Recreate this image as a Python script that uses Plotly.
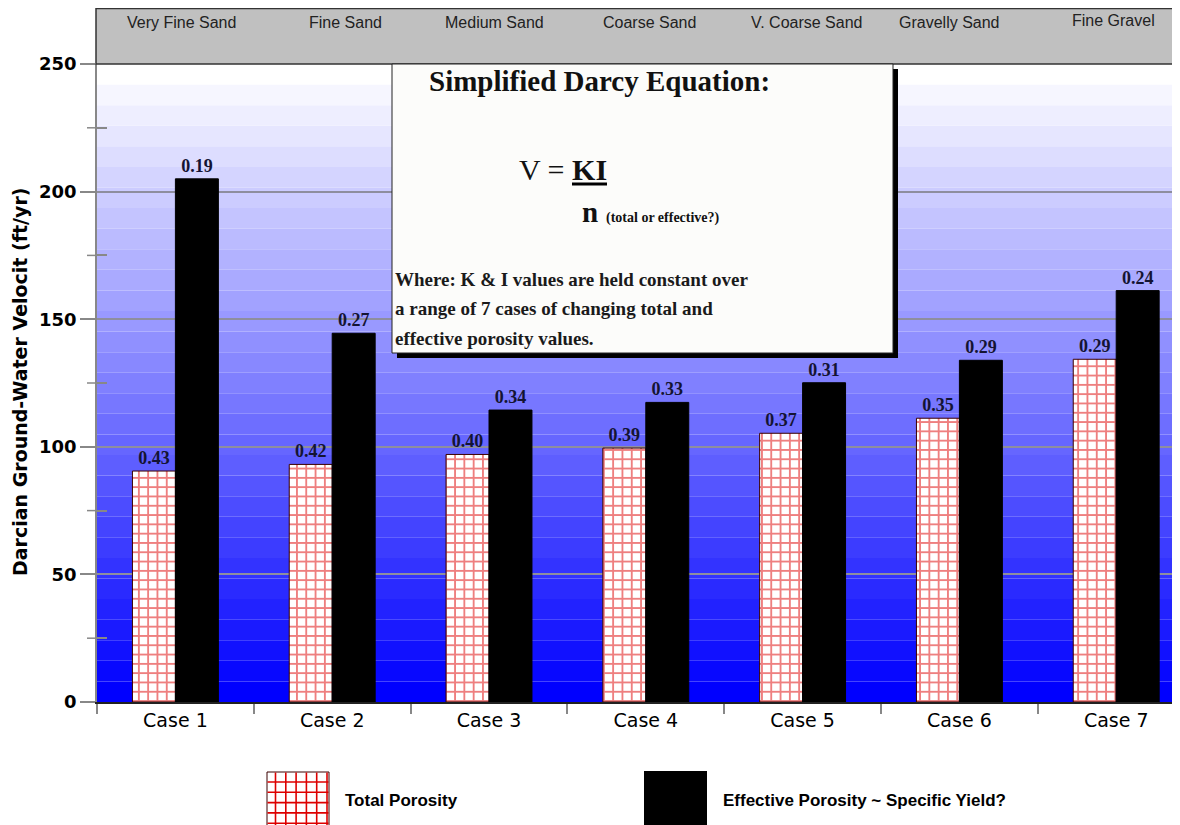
import plotly.graph_objects as go

# ---------------- data ----------------
cases = ["Case 1", "Case 2", "Case 3", "Case 4", "Case 5", "Case 6", "Case 7"]
sediments = ["Very Fine Sand", "Fine Sand", "Medium Sand", "Coarse Sand",
             "V. Coarse Sand", "Gravelly Sand", "Fine Gravel"]
total_velocity = [90.5, 93.1, 97.0, 99.5, 105.3, 111.2, 134.3]
effective_velocity = [205.0, 144.5, 114.4, 117.4, 125.1, 133.9, 161.2]
total_porosity_labels = ["0.43", "0.42", "0.40", "0.39", "0.37", "0.35", "0.29"]
effective_porosity_labels = ["0.19", "0.27", "0.34", "0.33", "0.31", "0.29", "0.24"]
y_tick_values = [0, 50, 100, 150, 200, 250]
series_names = ["Total Porosity", "Effective Porosity ~ Specific Yield?"]

# ---------------- layout helpers ----------------
# page has an 8px body margin; figure is sized so the plot lands where the reference has it
OFF = 8
W, H = 1180 - OFF, 825 - OFF
PLOT_L, PLOT_R, PLOT_T, PLOT_B = 97, 1180, 64, 702  # plot area in screen pixels
L, R, T, B = PLOT_L - OFF, 0, PLOT_T - OFF, H - (PLOT_B - OFF)
PW, PH = PLOT_R - PLOT_L, PLOT_B - PLOT_T


def px(x):
    return (x - PLOT_L) / PW


def py(y):
    return (PLOT_B - y) / PH


fig = go.Figure()
fig.add_trace(go.Bar(
    x=cases, y=total_velocity, name=series_names[0],
    text=total_porosity_labels, texttemplate="<b>%{text}</b>",
    textposition="outside", cliponaxis=False,
    textfont=dict(family="Liberation Serif", size=18, color="#141433"),
    marker=dict(color="white", line=dict(color="#3a0000", width=1),
                pattern=dict(shape="+", fgcolor="#dd0000", bgcolor="white",
                             size=9.3, solidity=0.36)),
    showlegend=False,
))
fig.add_trace(go.Bar(
    x=cases, y=effective_velocity, name=series_names[1],
    text=effective_porosity_labels, texttemplate="<b>%{text}</b>",
    textposition="outside", cliponaxis=False,
    textfont=dict(family="Liberation Serif", size=18, color="#141433"),
    marker=dict(color="black", line=dict(color="black", width=1)),
    showlegend=False,
))

shapes = []
# banded white-to-blue background
N = 31
ymax = y_tick_values[-1]
for k in range(N):
    c = round(255 * k / (N - 1))
    shapes.append(dict(type="rect", xref="paper", yref="y", x0=0, x1=1,
                       y0=ymax * k / N, y1=ymax * (k + 1) / N,
                       fillcolor=f"rgb({c},{c},255)", line=dict(width=0),
                       layer="below"))
# outside half of the minor y ticks (reference ticks cross the axis)
for v in [25, 75, 125, 175, 225]:
    shapes.append(dict(type="line", xref="paper", yref="y", x0=px(87), x1=px(97),
                       y0=v, y1=v, line=dict(color="#888888", width=1.5)))
# header band
shapes.append(dict(type="rect", xref="paper", yref="paper",
                   x0=px(96), x1=px(1185), y0=py(64), y1=py(8.5),
                   fillcolor="#c0c0c0", line=dict(color="#333333", width=1.5)))
# equation box with shadow
shapes.append(dict(type="rect", xref="paper", yref="paper",
                   x0=px(397), x1=px(898), y0=py(358), y1=py(69),
                   fillcolor="black", line=dict(width=0)))
shapes.append(dict(type="rect", xref="paper", yref="paper",
                   x0=px(392), x1=px(893), y0=py(353), y1=py(64),
                   fillcolor="#fcfcfa", line=dict(color="#222222", width=1)))
# underline of KI
shapes.append(dict(type="line", xref="paper", yref="paper",
                   x0=px(572), x1=px(607), y0=py(184), y1=py(184),
                   line=dict(color="black", width=3)))
# legend swatch: grid pattern
sx0, sx1, sy0, sy1 = 267, 329, 772, 830
shapes.append(dict(type="rect", xref="paper", yref="paper",
                   x0=px(sx0), x1=px(sx1), y0=py(sy1), y1=py(sy0),
                   fillcolor="white", line=dict(color="#3a0000", width=1)))
step = 10.3
gx = sx0 + 8.5
while gx < sx1 - 1:
    shapes.append(dict(type="line", xref="paper", yref="paper",
                       x0=px(gx), x1=px(gx), y0=py(sy1), y1=py(sy0 + 0.5),
                       line=dict(color="#dd0000", width=1.6)))
    gx += step
gy = sy0 + 10
while gy < 830:
    shapes.append(dict(type="line", xref="paper", yref="paper",
                       x0=px(sx0 + 0.5), x1=px(sx1 - 0.5), y0=py(gy), y1=py(gy),
                       line=dict(color="#dd0000", width=1.6)))
    gy += step
# legend swatch: black
shapes.append(dict(type="rect", xref="paper", yref="paper",
                   x0=px(644), x1=px(707), y0=py(830), y1=py(771),
                   fillcolor="black", line=dict(width=0)))

annotations = []
header_shift = [6, 13, 5, 4, 4, -10, -3]
for i, s in enumerate(sediments):
    annotations.append(dict(text=s, xref="x", yref="paper", x=i, y=py(23 if i < 6 else 20),
                            xshift=header_shift[i], showarrow=False, xanchor="center", yanchor="middle",
                            font=dict(family="Liberation Sans", size=16, color="#222222")))
serif = "Liberation Serif"
annotations += [
    dict(text="<b>Simplified Darcy Equation:</b>", xref="paper", yref="paper",
         x=px(599), y=py(81), showarrow=False, xanchor="center", yanchor="middle",
         font=dict(family=serif, size=29, color="#111111")),
    dict(text="V = <b>KI</b>", xref="paper", yref="paper",
         x=px(517), y=py(169), showarrow=False, xanchor="left", yanchor="middle",
         font=dict(family=serif, size=30, color="#111111")),
    dict(text="<b>n</b>", xref="paper", yref="paper",
         x=px(580), y=py(212), showarrow=False, xanchor="left", yanchor="middle",
         font=dict(family=serif, size=29, color="#111111")),
    dict(text="<b>(total or effective?)</b>", xref="paper", yref="paper",
         x=px(604), y=py(218), showarrow=False, xanchor="left", yanchor="middle",
         font=dict(family=serif, size=14, color="#111111")),
]
body = ["Where: K & I values are held constant over",
        "a range of 7 cases of changing total and",
        "effective porosity values."]
for j, line in enumerate(body):
    annotations.append(dict(text="<b>" + line + "</b>", xref="paper", yref="paper",
                            x=px(393), y=py(279 + 29.5 * j), showarrow=False,
                            xanchor="left", yanchor="middle",
                            font=dict(family=serif, size=19, color="#1a1a1a")))
# y-axis title
annotations.append(dict(text="<b>Darcian Ground-Water Velocit (ft/yr)</b>", xref="paper", yref="paper",
                        x=px(20), y=py(382), textangle=-90, showarrow=False,
                        xanchor="center", yanchor="middle",
                        font=dict(family="DejaVu Sans", size=19, color="black")))
# legend texts
annotations.append(dict(text="<b>" + series_names[0] + "</b>", xref="paper", yref="paper",
                        x=px(343), y=py(800), showarrow=False, xanchor="left", yanchor="middle",
                        font=dict(family="Liberation Sans", size=17, color="black")))
annotations.append(dict(text="<b>" + series_names[1] + "</b>", xref="paper", yref="paper",
                        x=px(721), y=py(800), showarrow=False, xanchor="left", yanchor="middle",
                        font=dict(family="Liberation Sans", size=17, color="black")))

fig.update_layout(
    width=W, height=H,
    margin=dict(l=L, r=R, t=T, b=B, pad=0),
    paper_bgcolor="white", plot_bgcolor="white",
    barmode="group", bargap=0.452, bargroupgap=0,
    shapes=shapes, annotations=annotations,
    font=dict(family="DejaVu Sans", color="black"),
    xaxis=dict(range=[-0.5, -0.5 + PW / 156.8], tickson="boundaries", ticks="outside",
               ticklen=10, tickwidth=1.5, tickcolor="#888888",
               showline=True, linecolor="#222222", linewidth=1.5,
               showgrid=False, zeroline=False,
               tickfont=dict(family="DejaVu Sans", size=19, color="black")),
    yaxis=dict(range=[0, ymax], tickvals=y_tick_values, ticks="outside", ticklen=15,
               tickwidth=1.5, tickcolor="#888888",
               minor=dict(tickvals=[25, 75, 125, 175, 225], ticks="inside", ticklen=10,
                          tickwidth=1.5, tickcolor="#888888", showgrid=False),
               showline=True, linecolor="#888888", linewidth=1.5,
               showgrid=True, gridcolor="#8e8e9e", gridwidth=1.5, zeroline=False,
               tickfont=dict(family="DejaVu Sans", size=18, color="black", weight="bold")),
)

fig.write_html("out.html")
